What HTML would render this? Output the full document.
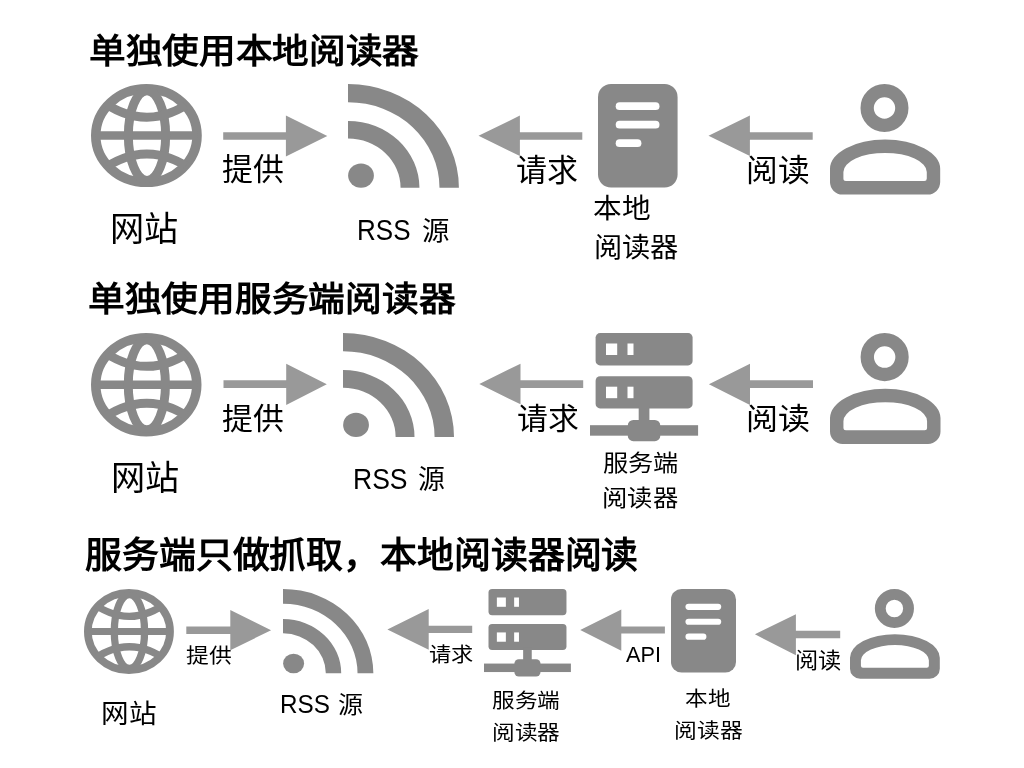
<!DOCTYPE html>
<html lang="zh-CN"><head><meta charset="utf-8"><title>RSS</title>
<style>
html,body{margin:0;padding:0;background:#ffffff;}
body{width:1024px;height:768px;position:relative;overflow:hidden;font-family:"Liberation Sans",sans-serif;color:#000;}
.t{white-space:nowrap;line-height:1;color:#000;filter:grayscale(1);}
</style></head><body>
<svg style="position:absolute;left:91.10px;top:84.10px;width:110.80px;height:103.10px;overflow:visible" viewBox="91.1 84.1 110.8 103.1" preserveAspectRatio="none"><defs><clipPath id="gc0"><ellipse cx="146.5" cy="135.65" rx="51" ry="47.2"/></clipPath></defs><g fill="none" stroke="#888888"><ellipse cx="146.5" cy="135.65" rx="50.65" ry="46.8" stroke-width="9.5"/><g clip-path="url(#gc0)"><line x1="90" y1="135.55" x2="203" y2="135.55" stroke-width="8.5"/><ellipse cx="147.1" cy="135.65" rx="18.65" ry="44.85" stroke-width="9"/><path d="M92 93.7 Q147 140.9 202 93.7" stroke-width="8.6"/><path d="M92 177.7 Q147 130.5 202 177.7" stroke-width="8.6"/></g></g></svg>
<svg style="position:absolute;left:91.40px;top:332.70px;width:110.50px;height:103.60px;overflow:visible" viewBox="91.1 84.1 110.8 103.1" preserveAspectRatio="none"><defs><clipPath id="gc1"><ellipse cx="146.5" cy="135.65" rx="51" ry="47.2"/></clipPath></defs><g fill="none" stroke="#888888"><ellipse cx="146.5" cy="135.65" rx="50.65" ry="46.8" stroke-width="9.5"/><g clip-path="url(#gc1)"><line x1="90" y1="135.55" x2="203" y2="135.55" stroke-width="8.5"/><ellipse cx="147.1" cy="135.65" rx="18.65" ry="44.85" stroke-width="9"/><path d="M92 93.7 Q147 140.9 202 93.7" stroke-width="8.6"/><path d="M92 177.7 Q147 130.5 202 177.7" stroke-width="8.6"/></g></g></svg>
<svg style="position:absolute;left:84.10px;top:588.75px;width:89.90px;height:85.00px;overflow:visible" viewBox="91.1 84.1 110.8 103.1" preserveAspectRatio="none"><defs><clipPath id="gc2"><ellipse cx="146.5" cy="135.65" rx="51" ry="47.2"/></clipPath></defs><g fill="none" stroke="#888888"><ellipse cx="146.5" cy="135.65" rx="50.65" ry="46.8" stroke-width="9.5"/><g clip-path="url(#gc2)"><line x1="90" y1="135.55" x2="203" y2="135.55" stroke-width="8.5"/><ellipse cx="147.1" cy="135.65" rx="18.65" ry="44.85" stroke-width="9"/><path d="M92 93.7 Q147 140.9 202 93.7" stroke-width="8.6"/><path d="M92 177.7 Q147 130.5 202 177.7" stroke-width="8.6"/></g></g></svg>
<svg style="position:absolute;left:347.80px;top:83.90px;width:110.90px;height:103.80px;overflow:visible" viewBox="0 0 104 104" preserveAspectRatio="none"><g fill="#888888"><path d="M0 0 A104 104 0 0 1 104 104 L85.8 104 A85.8 85.8 0 0 0 0 18.2 Z"/><path d="M0 37 A67 67 0 0 1 67 104 L49.3 104 A49.3 49.3 0 0 0 0 54.7 Z"/><circle cx="12.2" cy="91.8" r="12.1"/></g></svg>
<svg style="position:absolute;left:342.70px;top:332.70px;width:111.00px;height:104.10px;overflow:visible" viewBox="0 0 104 104" preserveAspectRatio="none"><g fill="#888888"><path d="M0 0 A104 104 0 0 1 104 104 L85.8 104 A85.8 85.8 0 0 0 0 18.2 Z"/><path d="M0 37 A67 67 0 0 1 67 104 L49.3 104 A49.3 49.3 0 0 0 0 54.7 Z"/><circle cx="12.2" cy="91.8" r="12.1"/></g></svg>
<svg style="position:absolute;left:283.40px;top:588.75px;width:90.35px;height:84.35px;overflow:visible" viewBox="0 0 104 104" preserveAspectRatio="none"><g fill="#888888"><path d="M0 0 A104 104 0 0 1 104 104 L85.8 104 A85.8 85.8 0 0 0 0 18.2 Z"/><path d="M0 37 A67 67 0 0 1 67 104 L49.3 104 A49.3 49.3 0 0 0 0 54.7 Z"/><circle cx="12.2" cy="91.8" r="12.1"/></g></svg>
<svg style="position:absolute;left:598.20px;top:83.90px;width:79.60px;height:103.60px;overflow:visible" viewBox="598.2 83.9 79.6 103.6" preserveAspectRatio="none"><rect x="598.2" y="83.9" width="79.6" height="103.6" rx="13" ry="13" fill="#888888"/><g fill="#fff"><rect x="615.9" y="102.2" width="43.8" height="7.7" rx="3.85"/><rect x="615.9" y="120.7" width="43.8" height="7.7" rx="3.85"/><rect x="615.9" y="139.2" width="25.7" height="7.7" rx="3.85"/></g></svg>
<svg style="position:absolute;left:671.10px;top:588.80px;width:65.00px;height:83.50px;overflow:visible" viewBox="598.2 83.9 79.6 103.6" preserveAspectRatio="none"><rect x="598.2" y="83.9" width="79.6" height="103.6" rx="13" ry="13" fill="#888888"/><g fill="#fff"><rect x="615.9" y="102.2" width="43.8" height="7.7" rx="3.85"/><rect x="615.9" y="120.7" width="43.8" height="7.7" rx="3.85"/><rect x="615.9" y="139.2" width="25.7" height="7.7" rx="3.85"/></g></svg>
<svg style="position:absolute;left:589.50px;top:332.80px;width:108.10px;height:108.20px;overflow:visible" viewBox="589.5 332.8 108.1 108.2" preserveAspectRatio="none"><g fill="#888888"><rect x="595.1" y="332.9" width="97" height="32.3" rx="4.5"/><rect x="595.1" y="376.0" width="97" height="32.2" rx="4.5"/><rect x="638.2" y="405" width="10.7" height="18"/><rect x="627.3" y="419.7" width="32.5" height="21.3" rx="5.5"/><rect x="589.5" y="425" width="108.1" height="10.5"/></g><g fill="#fff"><rect x="605.5" y="343.3" width="11.2" height="11.5"/><rect x="627" y="343.3" width="6" height="11.5"/><rect x="605.5" y="386.5" width="11.2" height="11.5"/><rect x="627" y="386.5" width="6" height="11.5"/></g></svg>
<svg style="position:absolute;left:484.00px;top:588.80px;width:86.90px;height:87.50px;overflow:visible" viewBox="589.5 332.8 108.1 108.2" preserveAspectRatio="none"><g fill="#888888"><rect x="595.1" y="332.9" width="97" height="32.3" rx="4.5"/><rect x="595.1" y="376.0" width="97" height="32.2" rx="4.5"/><rect x="638.2" y="405" width="10.7" height="18"/><rect x="627.3" y="419.7" width="32.5" height="21.3" rx="5.5"/><rect x="589.5" y="425" width="108.1" height="10.5"/></g><g fill="#fff"><rect x="605.5" y="343.3" width="11.2" height="11.5"/><rect x="627" y="343.3" width="6" height="11.5"/><rect x="605.5" y="386.5" width="11.2" height="11.5"/><rect x="627" y="386.5" width="6" height="11.5"/></g></svg>
<svg style="position:absolute;left:829.50px;top:84.00px;width:110.20px;height:110.60px;overflow:visible" viewBox="829.5 84 110.2 110.6" preserveAspectRatio="none"><circle cx="884.0" cy="108" r="17.35" fill="none" stroke="#888888" stroke-width="13.3"/><path fill="#888888" fill-rule="evenodd" d="M829.5 168.8 A55.1 29.2 0 0 1 939.7 168.8 L939.7 182.1 A12.5 12.5 0 0 1 927.2 194.6 L842 194.6 A12.5 12.5 0 0 1 829.5 182.1 Z M842.9 171.9 A41.7 19 0 0 1 926.3 171.9 L926.3 178.5 A2.5 2.5 0 0 1 923.8 181 L845.4 181 A2.5 2.5 0 0 1 842.9 178.5 Z"/></svg>
<svg style="position:absolute;left:829.50px;top:332.70px;width:110.50px;height:111.00px;overflow:visible" viewBox="829.5 84 110.2 110.6" preserveAspectRatio="none"><circle cx="884.0" cy="108" r="17.35" fill="none" stroke="#888888" stroke-width="13.3"/><path fill="#888888" fill-rule="evenodd" d="M829.5 168.8 A55.1 29.2 0 0 1 939.7 168.8 L939.7 182.1 A12.5 12.5 0 0 1 927.2 194.6 L842 194.6 A12.5 12.5 0 0 1 829.5 182.1 Z M842.9 171.9 A41.7 19 0 0 1 926.3 171.9 L926.3 178.5 A2.5 2.5 0 0 1 923.8 181 L845.4 181 A2.5 2.5 0 0 1 842.9 178.5 Z"/></svg>
<svg style="position:absolute;left:850.00px;top:588.80px;width:89.80px;height:89.80px;overflow:visible" viewBox="829.5 84 110.2 110.6" preserveAspectRatio="none"><circle cx="884.0" cy="108" r="17.35" fill="none" stroke="#888888" stroke-width="13.3"/><path fill="#888888" fill-rule="evenodd" d="M829.5 168.8 A55.1 29.2 0 0 1 939.7 168.8 L939.7 182.1 A12.5 12.5 0 0 1 927.2 194.6 L842 194.6 A12.5 12.5 0 0 1 829.5 182.1 Z M842.9 171.9 A41.7 19 0 0 1 926.3 171.9 L926.3 178.5 A2.5 2.5 0 0 1 923.8 181 L845.4 181 A2.5 2.5 0 0 1 842.9 178.5 Z"/></svg>
<svg style="position:absolute;left:0;top:0;width:1024px;height:768px" viewBox="0 0 1024 768">
<path d="M223.20 132.20 L285.90 132.20 L285.90 115.50 L327.30 136.00 L285.90 156.60 L285.90 139.80 L223.20 139.80 Z" fill="#999999"/>
<path d="M582.30 132.20 L519.90 132.20 L519.90 115.60 L478.50 135.80 L519.90 156.00 L519.90 139.70 L582.30 139.70 Z" fill="#999999"/>
<path d="M812.70 132.20 L749.90 132.20 L749.90 115.60 L708.50 135.80 L749.90 156.00 L749.90 139.70 L812.70 139.70 Z" fill="#999999"/>
<path d="M223.50 380.20 L286.20 380.20 L286.20 363.70 L326.80 384.30 L286.20 405.00 L286.20 388.00 L223.50 388.00 Z" fill="#999999"/>
<path d="M583.20 380.20 L520.50 380.20 L520.50 363.70 L479.30 384.00 L520.50 404.30 L520.50 388.00 L583.20 388.00 Z" fill="#999999"/>
<path d="M813.00 380.20 L750.00 380.20 L750.00 363.70 L708.90 384.30 L750.00 405.00 L750.00 388.00 L813.00 388.00 Z" fill="#999999"/>
<path d="M186.30 626.40 L230.30 626.40 L230.30 610.00 L271.10 630.20 L230.30 650.30 L230.30 633.90 L186.30 633.90 Z" fill="#999999"/>
<path d="M472.20 625.80 L428.70 625.80 L428.70 609.00 L387.40 629.40 L428.70 649.80 L428.70 633.10 L472.20 633.10 Z" fill="#999999"/>
<path d="M664.90 626.60 L621.30 626.60 L621.30 609.50 L580.20 630.10 L621.30 650.70 L621.30 633.60 L664.90 633.60 Z" fill="#999999"/>
<path d="M840.20 630.80 L795.90 630.80 L795.90 614.20 L754.90 634.30 L795.90 655.20 L795.90 638.20 L840.20 638.20 Z" fill="#999999"/>
</svg>
<div class="t" style="position:absolute;left:88.71px;top:34.15px;font-size:37px;font-weight:700;transform-origin:0 0;transform:scale(0.9907,0.9270);font-family:'Liberation Sans',sans-serif">单独使用本地阅读器</div>
<div class="t" style="position:absolute;left:221.57px;top:154.20px;font-size:30px;font-weight:400;transform-origin:0 0;transform:scale(1.0310,1.0286);font-family:'Liberation Sans',sans-serif">提供</div>
<div class="t" style="position:absolute;left:110.48px;top:211.70px;font-size:34px;font-weight:400;transform-origin:0 0;transform:scale(1.0063,0.9969);font-family:'Liberation Sans',sans-serif">网站</div>
<div class="t" style="position:absolute;left:357.24px;top:214.71px;font-size:28px;font-weight:400;transform-origin:0 0;transform:scale(0.9291,1.0737);font-family:'Liberation Sans',sans-serif">RSS</div>
<div class="t" style="position:absolute;left:421.52px;top:218.35px;font-size:28px;font-weight:400;transform-origin:0 0;transform:scale(0.9808,0.9462);font-family:'Liberation Sans',sans-serif">源</div>
<div class="t" style="position:absolute;left:516.47px;top:154.70px;font-size:30px;font-weight:400;transform-origin:0 0;transform:scale(1.0345,1.0250);font-family:'Liberation Sans',sans-serif">请求</div>
<div class="t" style="position:absolute;left:745.62px;top:154.70px;font-size:30px;font-weight:400;transform-origin:0 0;transform:scale(1.0589,1.0250);font-family:'Liberation Sans',sans-serif">阅读</div>
<div class="t" style="position:absolute;left:593.15px;top:195.29px;font-size:28px;font-weight:400;transform-origin:0 0;transform:scale(1.0245,0.9923);font-family:'Liberation Sans',sans-serif">本地</div>
<div class="t" style="position:absolute;left:593.68px;top:234.98px;font-size:28px;font-weight:400;transform-origin:0 0;transform:scale(1.0086,0.9778);font-family:'Liberation Sans',sans-serif">阅读器</div>
<div class="t" style="position:absolute;left:88.31px;top:282.84px;font-size:37px;font-weight:700;transform-origin:0 0;transform:scale(0.9930,0.9189);font-family:'Liberation Sans',sans-serif">单独使用服务端阅读器</div>
<div class="t" style="position:absolute;left:221.67px;top:403.80px;font-size:30px;font-weight:400;transform-origin:0 0;transform:scale(1.0293,0.9964);font-family:'Liberation Sans',sans-serif">提供</div>
<div class="t" style="position:absolute;left:111.18px;top:460.70px;font-size:34px;font-weight:400;transform-origin:0 0;transform:scale(1.0062,1.0031);font-family:'Liberation Sans',sans-serif">网站</div>
<div class="t" style="position:absolute;left:352.81px;top:463.61px;font-size:28px;font-weight:400;transform-origin:0 0;transform:scale(0.9473,1.0737);font-family:'Liberation Sans',sans-serif">RSS</div>
<div class="t" style="position:absolute;left:417.64px;top:466.67px;font-size:28px;font-weight:400;transform-origin:0 0;transform:scale(0.9615,0.9731);font-family:'Liberation Sans',sans-serif">源</div>
<div class="t" style="position:absolute;left:516.87px;top:403.80px;font-size:30px;font-weight:400;transform-origin:0 0;transform:scale(1.0293,0.9964);font-family:'Liberation Sans',sans-serif">请求</div>
<div class="t" style="position:absolute;left:746.30px;top:403.80px;font-size:30px;font-weight:400;transform-origin:0 0;transform:scale(1.0661,0.9964);font-family:'Liberation Sans',sans-serif">阅读</div>
<div class="t" style="position:absolute;left:602.79px;top:451.43px;font-size:25px;font-weight:400;transform-origin:0 0;transform:scale(1.0096,0.9320);font-family:'Liberation Sans',sans-serif">服务端</div>
<div class="t" style="position:absolute;left:602.47px;top:487.12px;font-size:25px;font-weight:400;transform-origin:0 0;transform:scale(1.0139,0.9240);font-family:'Liberation Sans',sans-serif">阅读器</div>
<div class="t" style="position:absolute;left:84.90px;top:538.05px;font-size:37px;font-weight:700;transform-origin:0 0;transform:scale(0.9969,0.9757);font-family:'Liberation Sans',sans-serif">服务端只做抓取，本地阅读器阅读</div>
<div class="t" style="position:absolute;left:185.76px;top:646.43px;font-size:22px;font-weight:400;transform-origin:0 0;transform:scale(1.0357,0.9273);font-family:'Liberation Sans',sans-serif">提供</div>
<div class="t" style="position:absolute;left:101.08px;top:700.52px;font-size:26px;font-weight:400;transform-origin:0 0;transform:scale(1.0612,1.0200);font-family:'Liberation Sans',sans-serif">网站</div>
<div class="t" style="position:absolute;left:279.98px;top:691.86px;font-size:24px;font-weight:400;transform-origin:0 0;transform:scale(1.0109,1.0471);font-family:'Liberation Sans',sans-serif">RSS</div>
<div class="t" style="position:absolute;left:338.26px;top:692.90px;font-size:24px;font-weight:400;transform-origin:0 0;transform:scale(1.0409,0.9783);font-family:'Liberation Sans',sans-serif">源</div>
<div class="t" style="position:absolute;left:428.79px;top:645.32px;font-size:22px;font-weight:400;transform-origin:0 0;transform:scale(1.0095,0.9182);font-family:'Liberation Sans',sans-serif">请求</div>
<div class="t" style="position:absolute;left:626.20px;top:643.44px;font-size:21px;font-weight:400;transform-origin:0 0;transform:scale(1.0344,1.0643);font-family:'Liberation Sans',sans-serif">API</div>
<div class="t" style="position:absolute;left:794.79px;top:650.28px;font-size:22px;font-weight:400;transform-origin:0 0;transform:scale(1.0561,0.9773);font-family:'Liberation Sans',sans-serif">阅读</div>
<div class="t" style="position:absolute;left:491.67px;top:690.73px;font-size:22px;font-weight:400;transform-origin:0 0;transform:scale(1.0297,0.9318);font-family:'Liberation Sans',sans-serif">服务端</div>
<div class="t" style="position:absolute;left:491.64px;top:722.93px;font-size:22px;font-weight:400;transform-origin:0 0;transform:scale(1.0302,0.9318);font-family:'Liberation Sans',sans-serif">阅读器</div>
<div class="t" style="position:absolute;left:685.37px;top:688.54px;font-size:22px;font-weight:400;transform-origin:0 0;transform:scale(1.0262,0.9409);font-family:'Liberation Sans',sans-serif">本地</div>
<div class="t" style="position:absolute;left:673.52px;top:720.53px;font-size:22px;font-weight:400;transform-origin:0 0;transform:scale(1.0381,0.9318);font-family:'Liberation Sans',sans-serif">阅读器</div>
</body></html>
